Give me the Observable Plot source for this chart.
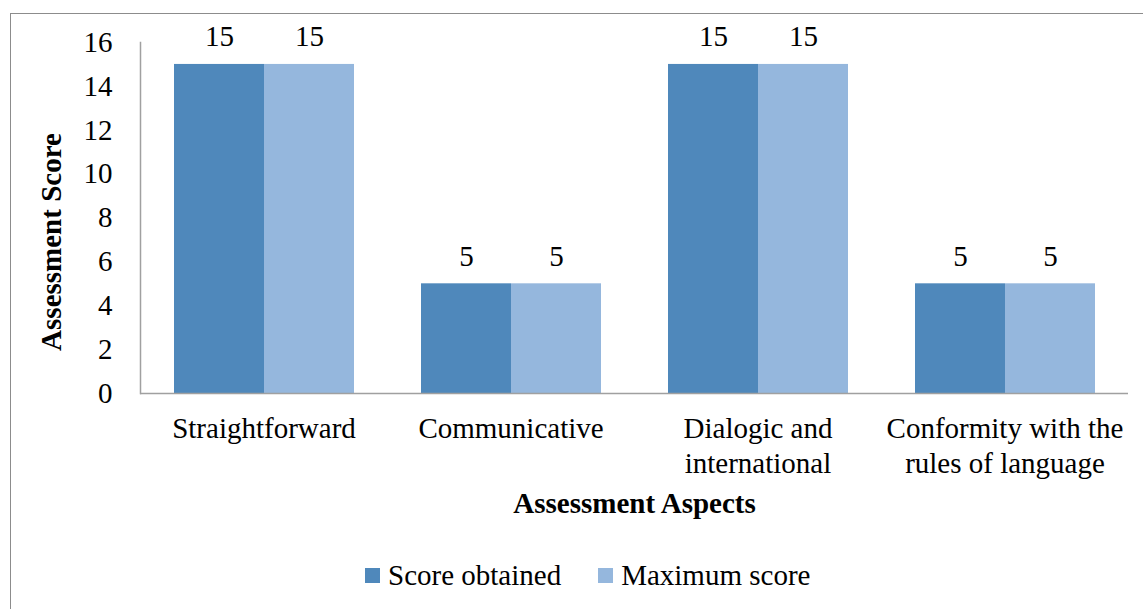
<!DOCTYPE html>
<html><head><meta charset="utf-8">
<script src="https://cdn.jsdelivr.net/npm/d3@7"></script>
<script src="https://cdn.jsdelivr.net/npm/@observablehq/plot@0.6"></script>
<style>
body{margin:0;background:#fff;font-family:"Liberation Serif","Times New Roman",serif;}
#wrap{position:relative;width:1143px;height:609px;overflow:hidden;background:#fff;}
#border{position:absolute;left:10px;top:13px;width:1200px;height:700px;border:1.5px solid #8c8c8c;box-sizing:border-box;}
#chart{position:absolute;left:0;top:0;}
#legend{position:absolute;left:365px;top:559px;display:flex;align-items:center;font-size:29px;line-height:32px;color:#000;}
#legend .item{display:flex;align-items:center;margin-right:37px;}
#legend .sw{width:15px;height:15px;margin-right:8px;}
g[aria-label="fx-axis label"] text{font-weight:bold;}
</style>
</head><body>
<div id="wrap"><div id="border"></div><div id="chart"></div><div id="legend"></div></div>
<script>
const aspects = ["Straightforward","Communicative","Dialogic and international","Conformity with the rules of language"];
const aspectLabels = ["Straightforward","Communicative","Dialogic and\ninternational","Conformity with the\nrules of language"];
const series = ["Score obtained","Maximum score"];
const scoreObtained = [15,5,15,5];
const maximumScore = [15,5,15,5];
const colors = ["#4F88BB","#95B7DD"];
const yTicks = [0,2,4,6,8,10,12,14,16];
const yTitle = "Assessment Score";
const xTitle = "Assessment Aspects";

const data = [];
aspects.forEach((a,i)=>{
  data.push({aspect:a, series:series[0], value:scoreObtained[i]});
  data.push({aspect:a, series:series[1], value:maximumScore[i]});
});
const labelOf = new Map(aspects.map((a,i)=>[a,aspectLabels[i]]));

const chart = Plot.plot({
  width:1143, height:540,
  marginLeft:139, marginRight:15, marginTop:42, marginBottom:147,
  style:{fontFamily:"'Liberation Serif','Times New Roman',serif", fontSize:"29px", color:"#000", background:"transparent", overflow:"visible"},
  fx:{domain:aspects, padding:0},
  x:{domain:series, paddingInner:0, paddingOuter:0.37, axis:null},
  y:{domain:[0,16], axis:null},
  color:{domain:series, range:colors},
  marks:[
    Plot.barY(data,{fx:"aspect", x:"series", y:"value", fill:"series"}),
    Plot.text(data,{fx:"aspect", x:"series", y:"value", text:d=>String(d.value), lineAnchor:"bottom", dy:-18, fill:"#000"}),
    Plot.ruleY([0],{stroke:"#a0a0a0", strokeWidth:1.5}),
    Plot.frame({anchor:"left", facetAnchor:"left", stroke:"#a0a0a0", strokeWidth:1.5}),
    Plot.axisY({ticks:yTicks, tickSize:0, tickPadding:28, label:null}),
    Plot.text([yTitle],{frameAnchor:"left", facetAnchor:"left", rotate:-90, dx:-89, dy:24, fontWeight:"bold", fill:"#000", textAnchor:"middle", lineAnchor:"middle"}),
    Plot.axisFx({anchor:"bottom", tickSize:0, tickPadding:20, tickFormat:d=>labelOf.get(d), lineHeight:1.2, label:xTitle, labelAnchor:"center", labelOffset:119, labelArrow:false})
  ]
});
document.getElementById("chart").appendChild(chart);

const legend = document.getElementById("legend");
series.forEach((s,i)=>{
  const it = document.createElement("div"); it.className="item";
  const sw = document.createElement("div"); sw.className="sw"; sw.style.background=colors[i];
  const t = document.createElement("span"); t.textContent=s;
  it.appendChild(sw); it.appendChild(t); legend.appendChild(it);
});
</script>
</body></html>
